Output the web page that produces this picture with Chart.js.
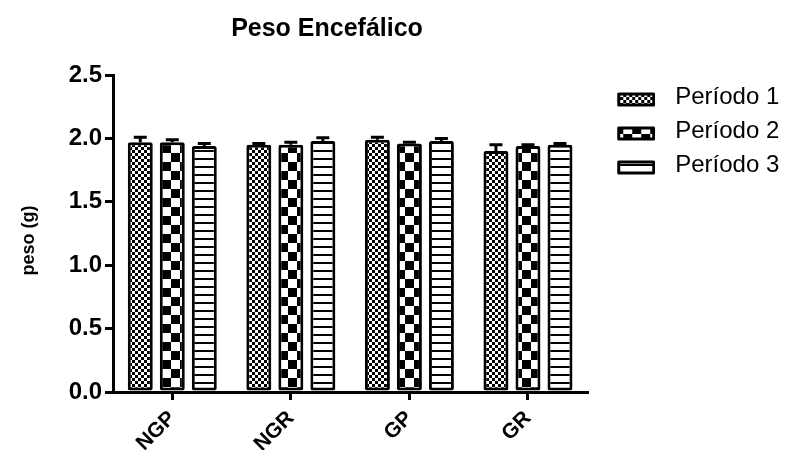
<!DOCTYPE html>
<html>
<head>
<meta charset="utf-8">
<script src="https://cdn.jsdelivr.net/npm/chart.js@4/dist/chart.umd.min.js"></script>
<style>
  html, body { margin: 0; padding: 0; background: #fff; }
  #wrap { width: 787px; height: 450px; }
</style>
</head>
<body>
<div id="wrap"><canvas id="c" width="787" height="450"></canvas></div>
<script>
// Brain weight (g) per group, three periods
const titleText = 'Peso Encefálico';
const yTitle = 'peso (g)';
const groups = ['NGP', 'NGR', 'GP', 'GR'];
const periodNames = ['Período 1', 'Período 2', 'Período 3'];
const period1 = [1.97, 1.95, 1.99, 1.90];
const period2 = [1.97, 1.95, 1.96, 1.94];
const period3 = [1.94, 1.98, 1.98, 1.95];
const period1Err = [0.04, 0.01, 0.02, 0.05];
const period2Err = [0.02, 0.02, 0.01, 0.01];
const period3Err = [0.02, 0.025, 0.02, 0.01];
const yTicks = [0, 0.5, 1.0, 1.5, 2.0, 2.5];

const FONT = '"Liberation Sans", Arial, Helvetica, sans-serif';

// fill tiles: fine checker, coarse checker, horizontal stripes
function makeTile(w, h, draw) {
  const c = document.createElement('canvas');
  c.width = w; c.height = h;
  const g = c.getContext('2d');
  g.fillStyle = '#fff'; g.fillRect(0, 0, w, h);
  g.fillStyle = '#000';
  draw(g);
  return c;
}
const tiles = [
  makeTile(6, 6, g => { g.fillRect(0, 0, 3, 3); g.fillRect(3, 3, 3, 3); }),
  makeTile(18, 18, g => { g.fillRect(0, 0, 9, 9); g.fillRect(9, 9, 9, 9); }),
  makeTile(8, 8, g => { g.fillRect(0, 6, 8, 2); })
];

const ctx = document.getElementById('c').getContext('2d');
const patterns = tiles.map(t => ctx.createPattern(t, 'repeat'));

// legend swatches: bordered box sitting in the right part of a wider canvas
function makeSwatch(tile) {
  const c = document.createElement('canvas');
  c.width = 50; c.height = 30;
  const g = c.getContext('2d');
  g.fillStyle = g.createPattern(tile, 'repeat');
  g.fillRect(13.5, 12, 35, 11);
  g.lineWidth = 3; g.lineJoin = 'round'; g.strokeStyle = '#000';
  g.strokeRect(13.5, 12, 35, 11);
  return c;
}
const swatches = tiles.map(makeSwatch);

const values = [period1, period2, period3];
const errors = [period1Err, period2Err, period3Err];

const datasets = periodNames.map((name, i) => ({
  label: name,
  data: values[i],
  errors: errors[i],
  backgroundColor: patterns[i],
  borderColor: '#000',
  borderWidth: 3,
  borderSkipped: false,
  borderRadius: 2,
  barPercentage: 0.78,
  categoryPercentage: 0.81
}));

// upward error bars (mean + SEM) with caps
const errorBars = {
  id: 'errorBars',
  afterDatasetsDraw(chart) {
    const { ctx, scales: { y } } = chart;
    ctx.save();
    ctx.strokeStyle = '#000';
    ctx.lineWidth = 3;
    chart.data.datasets.forEach((ds, di) => {
      const meta = chart.getDatasetMeta(di);
      meta.data.forEach((bar, i) => {
        const top = y.getPixelForValue(ds.data[i] + ds.errors[i]);
        ctx.beginPath();
        ctx.moveTo(bar.x, bar.y);
        ctx.lineTo(bar.x, top);
        ctx.moveTo(bar.x - 6.5, top);
        ctx.lineTo(bar.x + 6.5, top);
        ctx.stroke();
      });
    });
    ctx.restore();
  }
};

// chart heading and vertical axis title
const headings = {
  id: 'headings',
  afterDraw(chart) {
    const { ctx, chartArea } = chart;
    ctx.save();
    ctx.fillStyle = '#000';
    ctx.textAlign = 'center';
    ctx.textBaseline = 'middle';
    ctx.font = 'bold 25px ' + FONT;
    ctx.fillText(titleText, 327, 29);
    ctx.translate(29, (chartArea.top + chartArea.bottom) / 2 + 7);
    ctx.rotate(-Math.PI / 2);
    ctx.font = 'bold 18px ' + FONT;
    ctx.fillText(yTitle, 0, 0);
    ctx.restore();
  }
};

new Chart(ctx, {
  type: 'bar',
  data: { labels: groups, datasets },
  plugins: [errorBars, headings],
  options: {
    responsive: false,
    animation: false,
    layout: { padding: { top: 75, right: 4, bottom: 0, left: 0 } },
    plugins: {
      title: { display: false },
      tooltip: { enabled: false },
      legend: {
        position: 'right',
        align: 'start',
        labels: {
          usePointStyle: true,
          pointStyleWidth: 66,
          padding: 10,
          color: '#000',
          font: { family: FONT, size: 24 },
          generateLabels: chart => chart.data.datasets.map((ds, i) => ({
            text: ds.label,
            pointStyle: swatches[i],
            datasetIndex: i,
            hidden: false,
            lineWidth: 0,
            fontColor: '#000'
          }))
        }
      }
    },
    scales: {
      x: {
        offset: true,
        grid: { offset: false, drawOnChartArea: false, drawTicks: true, tickLength: 8, lineWidth: 3, color: '#000' },
        border: { display: true, width: 3, color: '#000' },
        ticks: { maxRotation: 45, minRotation: 45, padding: 6, color: '#000', font: { family: FONT, size: 21, weight: 'bold' } },
        afterFit: s => { s.height = 58; }
      },
      y: {
        min: 0,
        max: 2.5,
        afterBuildTicks: s => { s.ticks = yTicks.map(v => ({ value: v })); },
        grid: { drawOnChartArea: false, drawTicks: true, tickLength: 8, lineWidth: 3, color: '#000' },
        border: { display: true, width: 3, color: '#000' },
        ticks: { padding: 3, color: '#000', font: { family: FONT, size: 24, weight: 'bold' }, callback: v => Number(v).toFixed(1) },
        afterFit: s => { s.width = 113; }
      }
    }
  }
});
</script>
</body>
</html>
